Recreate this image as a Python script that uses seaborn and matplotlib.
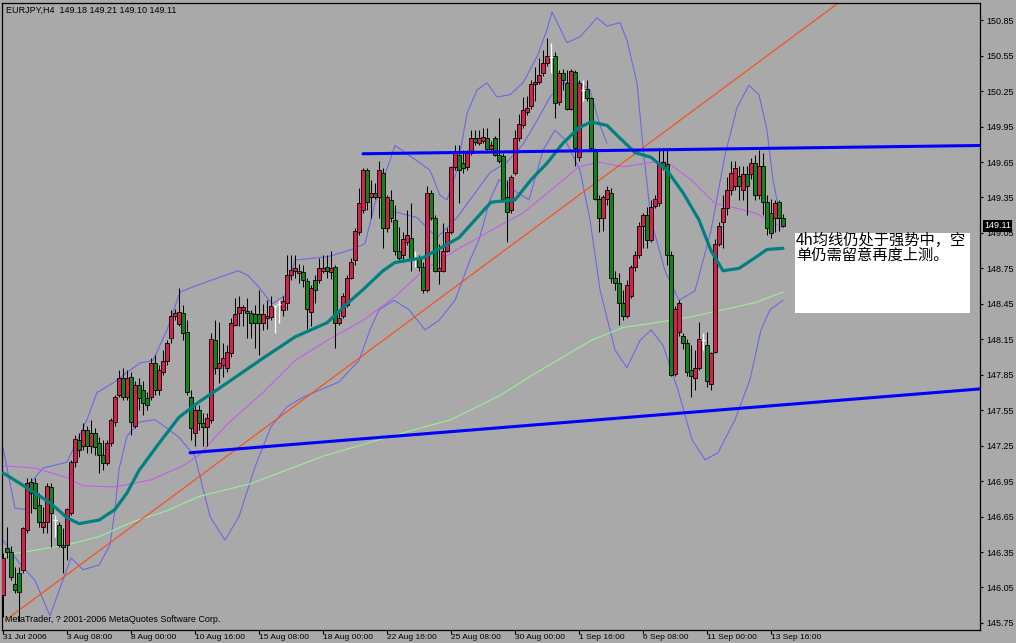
import matplotlib
matplotlib.use("Agg")
import matplotlib.pyplot as plt
from matplotlib.patches import Rectangle
from matplotlib.transforms import blended_transform_factory
import pandas as pd
import seaborn as sns

# EURJPY H4 candles (bar index 0 = 31 Jul 2006)
bar_open = [
    145.99, 146.38, 146.35, 146.08, 146.17, 146.20, 146.54, 146.94, 146.93, 146.75,
    146.56, 146.60, 146.90, 146.62, 146.58, 146.41, 146.41, 146.68, 147.11, 147.30,
    147.25, 147.38, 147.25, 147.36, 147.27, 147.17, 147.10, 147.27, 147.45, 147.68,
    147.82, 147.66, 147.83, 147.42, 147.76, 147.72, 147.65, 147.66, 147.95, 147.72,
    147.87, 147.97, 148.16, 148.35, 148.28, 148.37, 148.21, 147.66, 147.36, 147.55,
    147.44, 147.41, 147.47, 148.14, 147.91, 147.93, 147.91, 148.03, 148.27, 148.37,
    148.40, 148.39, 148.37, 148.36, 148.36, 148.29, 148.33, 148.34, 148.43, 148.45,
    148.40, 148.46, 148.69, 148.73, 148.71, 148.72, 148.64, 148.38, 148.65, 148.65,
    148.73, 148.76, 148.72, 148.76, 148.29, 148.35, 148.44, 148.67, 148.82, 149.06,
    149.24, 149.58, 149.35, 149.39, 149.35, 149.56, 149.09, 149.33, 149.16, 148.90,
    148.86, 148.97, 149.01, 148.84, 148.84, 148.76, 148.57, 149.39, 149.18, 148.73,
    148.73, 148.90, 149.06, 149.61, 149.71, 149.64, 149.61, 149.73, 149.85, 149.81,
    149.83, 149.85, 149.76, 149.85, 149.71, 149.70, 149.35, 149.24, 149.56, 149.85,
    149.96, 150.07, 150.12, 150.31, 150.33, 150.40, 150.49, 150.54, 150.55, 150.16,
    150.40, 150.32, 150.10, 150.41, 149.69, 150.26, 150.27, 150.19, 149.75, 149.34,
    149.18, 149.34, 149.39, 148.67, 148.63, 148.46, 148.35, 148.52, 148.76, 148.86,
    149.11, 149.20, 148.99, 149.28, 149.30, 149.65, 149.63, 148.86, 147.86, 148.21,
    148.18, 148.12, 147.89, 147.82, 147.91, 148.14, 148.10, 147.77, 148.04, 148.96,
    149.14, 149.26, 149.41, 149.45, 149.53, 149.41, 149.55, 149.55, 149.64, 149.37,
    149.62, 149.31, 149.22, 149.18, 149.31, 149.18,
]
bar_high = [
    146.34, 146.56, 146.40, 146.22, 146.22, 146.56, 146.98, 146.98, 146.98, 146.85,
    146.73, 146.93, 146.93, 146.66, 146.60, 146.55, 146.72, 147.13, 147.34, 147.36,
    147.44, 147.42, 147.47, 147.40, 147.32, 147.30, 147.30, 147.48, 147.68, 147.89,
    147.91, 147.89, 147.87, 147.80, 147.82, 147.80, 147.70, 147.99, 148.02, 147.93,
    148.06, 148.14, 148.40, 148.41, 148.58, 148.44, 148.31, 147.72, 147.59, 147.59,
    147.53, 147.53, 148.20, 148.31, 148.30, 148.12, 148.10, 148.33, 148.50, 148.52,
    148.44, 148.50, 148.40, 148.44, 148.57, 148.45, 148.48, 148.52, 148.44, 148.48,
    148.52, 148.86, 148.86, 148.86, 148.79, 148.78, 148.67, 148.61, 148.69, 148.84,
    148.86, 148.86, 148.90, 148.78, 148.40, 148.54, 148.69, 148.84, 149.09, 149.43,
    149.60, 149.60, 149.50, 149.47, 149.66, 149.60, 149.37, 149.41, 149.29, 149.10,
    149.06, 149.24, 149.30, 148.90, 148.86, 148.80, 149.45, 149.41, 149.20, 148.96,
    149.13, 149.09, 149.62, 149.79, 149.79, 149.75, 149.75, 149.92, 149.92, 149.92,
    149.94, 149.94, 149.83, 149.87, 150.02, 149.73, 149.50, 149.54, 149.92, 150.06,
    150.20, 150.21, 150.34, 150.45, 150.53, 150.60, 150.70, 150.66, 150.58, 150.43,
    150.44, 150.43, 150.44, 150.43, 150.34, 150.34, 150.34, 150.20, 149.77, 149.37,
    149.37, 149.45, 149.43, 148.73, 148.71, 148.57, 148.65, 148.78, 148.90, 149.14,
    149.22, 149.27, 149.33, 149.37, 149.77, 149.77, 149.77, 148.90, 148.43, 148.48,
    148.20, 148.15, 148.10, 148.06, 148.30, 148.20, 148.21, 148.04, 149.00, 149.14,
    149.37, 149.52, 149.66, 149.66, 149.62, 149.62, 149.62, 149.68, 149.71, 149.75,
    149.73, 149.37, 149.34, 149.33, 149.33, 149.21,
]
bar_low = [
    145.80, 146.30, 146.11, 146.00, 145.77, 146.17, 146.51, 146.68, 146.71, 146.56,
    146.51, 146.51, 146.39, 146.48, 146.39, 146.17, 146.28, 146.66, 147.07, 147.15,
    147.21, 147.19, 147.19, 147.17, 147.02, 147.04, 147.09, 147.25, 147.42, 147.66,
    147.64, 147.64, 147.34, 147.40, 147.55, 147.51, 147.55, 147.64, 147.68, 147.68,
    147.85, 147.93, 148.12, 148.31, 148.26, 148.14, 147.68, 147.30, 147.25, 147.38,
    147.25, 147.25, 147.44, 147.86, 147.78, 147.83, 147.87, 148.00, 148.26, 148.26,
    148.26, 148.16, 148.16, 148.08, 148.02, 148.23, 148.24, 148.31, 148.20, 148.29,
    148.35, 148.40, 148.65, 148.67, 148.63, 148.59, 148.24, 148.26, 148.46, 148.63,
    148.71, 148.67, 148.66, 148.08, 148.27, 148.33, 148.42, 148.66, 148.78, 149.03,
    149.22, 149.24, 149.18, 149.34, 149.18, 148.92, 149.06, 149.14, 148.86, 148.82,
    148.80, 148.95, 148.73, 148.76, 148.73, 148.54, 148.55, 149.16, 148.72, 148.62,
    148.72, 148.89, 149.04, 149.58, 149.30, 149.56, 149.58, 149.71, 149.79, 149.79,
    149.81, 149.75, 149.74, 149.70, 149.64, 149.33, 148.97, 149.22, 149.54, 149.83,
    149.94, 150.05, 150.10, 150.17, 150.31, 150.38, 150.46, 150.40, 150.02, 150.13,
    150.26, 150.09, 150.09, 149.62, 149.66, 150.17, 150.17, 149.75, 149.33, 149.06,
    149.07, 149.29, 148.63, 148.57, 148.27, 148.31, 148.33, 148.50, 148.73, 148.84,
    148.92, 148.92, 148.97, 149.26, 149.28, 149.58, 148.78, 147.84, 147.84, 148.18,
    148.07, 147.84, 147.66, 147.72, 147.89, 148.06, 147.75, 147.72, 148.03, 148.94,
    148.92, 149.20, 149.37, 149.41, 149.33, 149.33, 149.20, 149.51, 149.33, 149.34,
    149.20, 149.03, 149.01, 149.06, 149.07, 149.10,
]
bar_close = [
    146.30, 146.35, 146.14, 146.03, 146.01, 146.55, 146.93, 146.85, 146.72, 146.60,
    146.60, 146.91, 146.68, 146.62, 146.41, 146.39, 146.71, 147.11, 147.31, 147.21,
    147.38, 147.25, 147.36, 147.24, 147.17, 147.10, 147.27, 147.47, 147.66, 147.82,
    147.66, 147.82, 147.45, 147.76, 147.65, 147.61, 147.59, 147.95, 147.72, 147.89,
    147.97, 148.12, 148.35, 148.37, 148.38, 148.20, 147.70, 147.40, 147.55, 147.44,
    147.41, 147.48, 148.15, 147.91, 147.95, 147.99, 148.04, 148.29, 148.36, 148.42,
    148.42, 148.37, 148.29, 148.29, 148.29, 148.36, 148.35, 148.43, 148.43, 148.45,
    148.47, 148.69, 148.74, 148.75, 148.73, 148.65, 148.41, 148.58, 148.57, 148.75,
    148.75, 148.73, 148.75, 148.29, 148.33, 148.52, 148.67, 148.80, 149.07, 149.30,
    149.58, 149.31, 149.39, 149.35, 149.58, 149.09, 149.35, 149.18, 148.90, 148.84,
    149.00, 149.03, 148.82, 148.84, 148.76, 148.57, 149.39, 149.18, 148.73, 148.75,
    148.90, 149.06, 149.61, 149.73, 149.58, 149.60, 149.73, 149.85, 149.82, 149.85,
    149.86, 149.76, 149.79, 149.71, 149.66, 149.34, 149.23, 149.52, 149.85, 149.97,
    150.09, 150.11, 150.31, 150.33, 150.39, 150.49, 150.55, 150.54, 150.15, 150.40,
    150.34, 150.10, 150.42, 149.77, 150.32, 150.26, 150.19, 149.77, 149.34, 149.18,
    149.35, 149.41, 148.67, 148.63, 148.46, 148.35, 148.61, 148.76, 148.86, 149.11,
    149.20, 148.99, 149.27, 149.34, 149.64, 149.61, 148.86, 147.85, 148.41, 148.46,
    148.12, 147.87, 147.84, 147.91, 148.15, 148.14, 147.80, 148.03, 148.96, 149.11,
    149.26, 149.41, 149.56, 149.60, 149.45, 149.55, 149.45, 149.64, 149.37, 149.62,
    149.31, 149.09, 149.05, 149.30, 149.18, 149.11,
]

# moving averages, sampled along the drawn curves
teal_ma_bars = [0, 8, 12, 16, 19, 24, 28, 31, 34, 39, 44, 49, 56, 65, 73, 81, 86, 90,
                95, 98, 105, 114, 122, 128, 132, 136, 140, 144, 147, 151, 154, 158,
                162, 166, 170, 174, 177, 180, 184, 188, 191, 195]
teal_ma = [147.02, 146.85, 146.76, 146.64, 146.59, 146.62, 146.71, 146.85, 147.04,
           147.27, 147.49, 147.62, 147.78, 147.99, 148.17, 148.29, 148.45, 148.57,
           148.73, 148.80, 148.84, 149.01, 149.31, 149.33, 149.50, 149.64, 149.81,
           149.94, 149.99, 149.96, 149.86, 149.73, 149.69, 149.58, 149.39, 149.16,
           148.90, 148.73, 148.75, 148.84, 148.91, 148.92]

violet_ma_bars = [0, 8, 16, 20, 28, 37, 45, 49, 56, 65, 73, 81, 90, 98, 105, 113,
                  122, 130, 138, 144, 149, 155, 163, 166, 172, 178, 182, 188, 193, 195]
violet_ma = [147.08, 147.06, 146.98, 146.91, 146.90, 146.96, 147.08, 147.17, 147.43,
             147.70, 147.97, 148.14, 148.31, 148.51, 148.73, 148.90, 149.07, 149.22,
             149.44, 149.61, 149.65, 149.61, 149.65, 149.65, 149.50, 149.30, 149.27,
             149.22, 149.13, 149.09]

green_ma_bars = [0, 16, 24, 32, 41, 49, 62, 80, 98, 112, 124, 132, 140, 147, 155,
                 163, 172, 180, 188, 195]
green_ma = [146.32, 146.41, 146.48, 146.60, 146.70, 146.82, 146.93, 147.16, 147.34,
            147.47, 147.67, 147.84, 148.00, 148.14, 148.25, 148.29, 148.34, 148.40,
            148.46, 148.55]

# outer band pair, sampled along the drawn curves
band_up_bars = [0, 3, 6, 7.5, 10, 16, 21, 23.5, 27.5, 31, 34.25, 37.5, 41, 44.25,
                48, 51.25, 58.75, 61.25, 63.75, 67.25, 70.5, 73, 81.25, 87.25, 90.5,
                93, 94.75, 98, 103.5, 106.75, 109.25, 111, 113.5, 116, 118.5, 121,
                123.5, 126.75, 130, 133.5, 136, 137.25, 141, 144.25, 148.5, 151,
                154.25, 156, 158.5, 160, 162, 165.5, 169, 173, 177, 180.5, 183.5,
                186.5, 189, 191, 192.5, 194, 195]
band_up = [147.23, 146.72, 146.71, 146.96, 147.06, 147.11, 147.47, 147.70, 147.78,
           147.87, 147.95, 147.97, 148.23, 148.55, 148.60, 148.64, 148.73, 148.69,
           148.60, 148.45, 148.52, 148.82, 148.85, 148.91, 148.96, 149.30, 149.47,
           149.79, 149.66, 149.58, 149.37, 149.33, 149.58, 150.06, 150.26, 150.32,
           150.20, 150.22, 150.32, 150.54, 150.77, 150.92, 150.66, 150.71, 150.87,
           150.80, 150.83, 150.68, 150.32, 149.78, 149.16, 148.73, 148.48, 148.56,
           149.07, 149.71, 150.11, 150.30, 150.22, 149.92, 149.50, 149.24, 149.15]
band_low_bars = [0, 4, 8, 11.75, 17, 20, 24, 26.75, 28, 29, 31, 34, 38, 40.5, 44,
                 48, 51.75, 55.5, 59, 63, 67, 71, 75, 84, 89, 91.75, 94, 97.75, 101.5,
                 105.5, 109, 113, 116.75, 119, 121.75, 124, 127.75, 131.5, 135, 138,
                 140.5, 144.25, 146.75, 149.25, 153, 156, 159.25, 162, 165, 168.75,
                 172.25, 175.5, 178.75, 183, 186.75, 189.5, 191.75, 195]
band_low = [146.45, 146.26, 146.11, 145.81, 146.30, 146.20, 146.24, 146.41, 146.71,
            147.05, 147.33, 147.45, 147.47, 147.41, 147.32, 147.16, 146.65, 146.45,
            146.65, 147.07, 147.41, 147.58, 147.66, 147.79, 147.97, 148.23, 148.40,
            148.48, 148.40, 148.23, 148.31, 148.48, 148.82, 148.99, 149.33, 149.50,
            149.41, 149.33, 149.75, 149.92, 149.84, 149.58, 149.16, 148.57, 148.06,
            147.91, 148.14, 148.23, 148.10, 147.72, 147.30, 147.13, 147.19, 147.47,
            147.81, 148.23, 148.40, 148.48]

# inner band pair, sampled along the drawn curves
inner_up_bars = [96.75, 103.5, 108.5, 113.5, 121.75, 126, 130, 133.5, 136.75,
                 140, 143.5, 146.75, 149.25, 151]
inner_up = [149.24, 149.18, 149.01, 149.18, 149.56, 149.65, 149.80, 150.00, 150.20,
            150.32, 150.33, 150.26, 149.96, 149.81]

# hand-drawn objects
top_line_bars = [90, 244.25]
top_line = [149.72, 149.79]
low_line_bars = [46.75, 244.25]
low_line = [147.19, 147.73]
fan_line_bars = [0.5, 209]
fan_line = [145.77, 151.00]

tick_bars = [0, 16, 32, 48, 64, 80, 96, 112, 128, 144, 160, 176, 192]
tick_labels = ["31 Jul 2006", "3 Aug 08:00", "8 Aug 00:00", "10 Aug 16:00",
               "15 Aug 08:00", "18 Aug 00:00", "22 Aug 16:00", "25 Aug 08:00",
               "30 Aug 00:00", "1 Sep 16:00", "6 Sep 08:00", "11 Sep 00:00",
               "13 Sep 16:00"]
price_ticks = [145.75, 146.05, 146.35, 146.65, 146.95, 147.25, 147.55, 147.85,
               148.15, 148.45, 148.75, 149.05, 149.35, 149.65, 149.95, 150.25,
               150.55, 150.85]

BG = "#a9a9a9"
UP = "#d3214a"
DOWN = "#16801a"
BAND = "#7066e6"
SMALL = dict(family="Liberation Sans", fontsize=6.5)

sns.set_theme(style="white")
plt.rcParams["axes.facecolor"] = BG
plt.rcParams["figure.facecolor"] = BG

W, H = 1016, 643
fig = plt.figure(figsize=(W / 100, H / 100), dpi=100)
ax = fig.add_axes([2 / W, 13 / H, 978 / W, 627.5 / H])

df = pd.DataFrame({"open": bar_open, "high": bar_high, "low": bar_low,
                   "close": bar_close})
df["bar"] = range(len(df))

# indicator lines under the candles
for xs, ys in [(band_up_bars, band_up), (band_low_bars, band_low),
               (inner_up_bars, inner_up)]:
    sns.lineplot(x=xs, y=ys, ax=ax, color=BAND, lw=0.8, estimator=None,
                 sort=False, zorder=2)
sns.lineplot(x=green_ma_bars, y=green_ma, ax=ax, color="#98f098", lw=0.8,
             estimator=None, zorder=2)
sns.lineplot(x=violet_ma_bars, y=violet_ma, ax=ax, color="#c55ee8", lw=0.8,
             estimator=None, zorder=2)

# candles
doji = df[df["open"] == df["close"]]
body = df[df["open"] != df["close"]]
ax.vlines(body["bar"], body["low"], body["high"], color="black", lw=0.75, zorder=3)
colors = [UP if c > o else DOWN for o, c in zip(body["open"], body["close"])]
ax.bar(body["bar"], (body["close"] - body["open"]).abs(),
       bottom=body[["open", "close"]].min(axis=1), width=0.8, color=colors,
       edgecolor="black", linewidth=0.6, zorder=4)
ax.vlines(doji["bar"], doji["low"], doji["high"], color="white", lw=0.9, zorder=4)
ax.hlines(doji["open"], doji["bar"] - 0.45, doji["bar"] + 0.45, color="white",
          lw=0.9, zorder=4)

sns.lineplot(x=teal_ma_bars, y=teal_ma, ax=ax, color="#008080", lw=2.3,
             estimator=None, zorder=5)

# trend lines
ax.plot(fan_line_bars, fan_line, color="#ff4a10", lw=0.8, zorder=2)
ax.plot(top_line_bars, top_line, color="#0000ff", lw=2.2, zorder=6)
ax.plot(low_line_bars, low_line, color="#0000ff", lw=2.2, zorder=6)

ax.set_xlim(-0.25, 244.25)
ax.set_ylim(145.69, 151.0)

ax.set_xticks(tick_bars)
ax.set_xticklabels(tick_labels, ha="left", family="Liberation Sans", fontsize=6)
ax.yaxis.tick_right()
ax.set_yticks(price_ticks)
ax.set_yticklabels([f"{p:.2f}" for p in price_ticks], **SMALL)
ax.tick_params(axis="x", direction="out", length=3, width=0.8, pad=0,
               colors="black", bottom=True)
ax.tick_params(axis="y", direction="out", length=2.5, width=0.8, pad=2,
               colors="black", right=True, left=False)
for s in ax.spines.values():
    s.set_color("black")
    s.set_linewidth(0.9)

# current price marker
trans = blended_transform_factory(ax.transAxes, ax.transData)
ax.text(1.004, bar_close[-1], f"{bar_close[-1]:.2f}", transform=trans,
        ha="left", va="center", color="white", clip_on=False, zorder=20,
        bbox=dict(boxstyle="square,pad=0.15", fc="black", ec="none"), **SMALL)

# header and footer
fig.text(6 / W, 1 - 10 / H, "EURJPY,H4  149.18 149.21 149.10 149.11",
         ha="left", va="center", color="black", **SMALL)
fig.text(5 / W, 1 - 620 / H, "MetaTrader, ? 2001-2006 MetaQuotes Software Corp.",
         ha="left", va="center", color="black", **SMALL)

# comment box
fig.patches.append(Rectangle((795 / W, 1 - 313 / H), 175 / W, 80 / H,
                             transform=fig.transFigure, fc="white", ec="none",
                             zorder=10))
cjk = ["Noto Sans CJK SC", "DejaVu Sans"]
fig.text(796 / W, 1 - 240 / H, "4h均线仍处于强势中，空", family=cjk,
         fontsize=11, ha="left", va="center", color="black", zorder=11)
fig.text(796 / W, 1 - 255 / H, "单仍需留意再度上测。", family=cjk,
         fontsize=11, ha="left", va="center", color="black", zorder=11)

fig.savefig("out.png", dpi=100, facecolor=BG)
